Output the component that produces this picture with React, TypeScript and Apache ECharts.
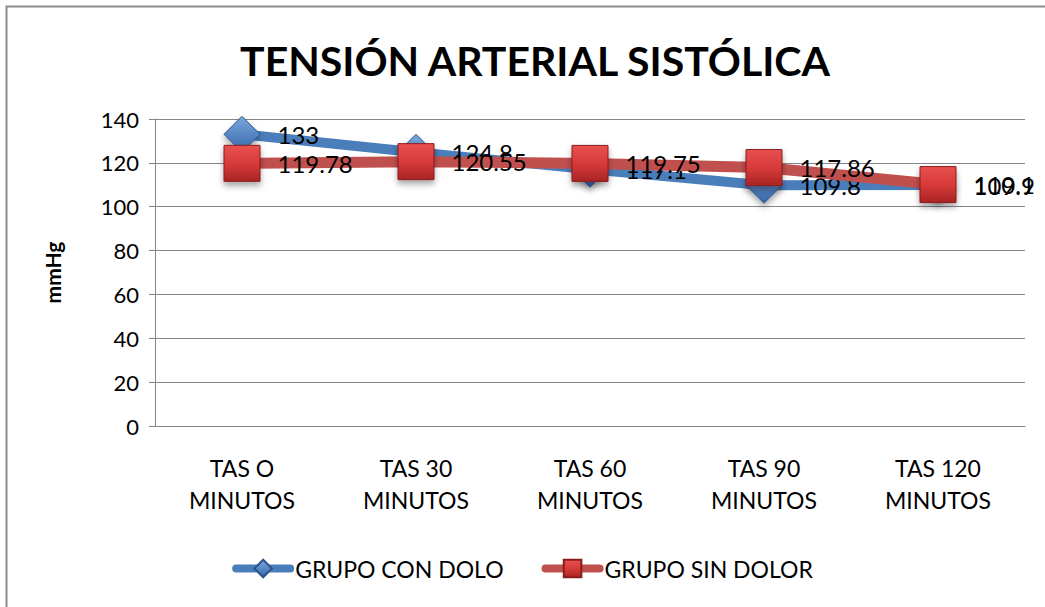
import React, { useEffect, useRef } from "react";
import * as echarts from "echarts";

const categories = ["TAS O\nMINUTOS", "TAS 30\nMINUTOS", "TAS 60\nMINUTOS", "TAS 90\nMINUTOS", "TAS 120\nMINUTOS"];
const conDolor = [133, 124.8, 117.1, 109.8, 109.9];
const sinDolor = [119.78, 120.55, 119.75, 117.86, 110.1];
const seriesNames = ["GRUPO CON DOLO", "GRUPO SIN DOLOR"];
const yTicks = { min: 0, max: 140, interval: 20 };

const FONT = "Lato, 'Open Sans', sans-serif";

export default function App() {
  const ref = useRef<HTMLDivElement>(null);
  useEffect(() => {
    if (!ref.current) return;
    const chart = echarts.init(ref.current, null, { renderer: "svg" });
    const blueGrad = new echarts.graphic.LinearGradient(0, 0, 0, 1, [
      { offset: 0, color: "#7aa8e0" },
      { offset: 1, color: "#3566a8" },
    ]);
    const redGrad = new echarts.graphic.LinearGradient(0, 0, 0, 1, [
      { offset: 0, color: "#e85050" },
      { offset: 0.5, color: "#d83a3a" },
      { offset: 1, color: "#a82424" },
    ]);
    chart.setOption({
      animation: false,
      backgroundColor: "#ffffff",
      textStyle: { fontFamily: FONT },
      title: {
        text: "TENSIÓN ARTERIAL SISTÓLICA",
        left: 530,
        textAlign: "center",
        top: 35,
        textStyle: { fontSize: 41, fontWeight: "bold", color: "#000", fontFamily: FONT },
      },
      graphic: [
        {
          type: "rect",
          shape: { x: 6.5, y: 6.5, width: 1200, height: 800 },
          style: { fill: "none", stroke: "#8c8c8c", lineWidth: 2 },
          silent: true,
        },
      ],
      grid: { left: 155, right: 20, top: 119, bottom: 181 },
      legend: {
        bottom: 22,
        left: "center",
        itemWidth: 54,
        itemHeight: 22,
        itemGap: 38,
        lineStyle: { width: 8, cap: "round" },
        textStyle: { fontSize: 23, color: "#000", fontFamily: FONT },
        data: seriesNames,
      },
      xAxis: {
        type: "category",
        data: categories,
        boundaryGap: true,
        axisLine: { lineStyle: { color: "#868686", width: 1 } },
        axisTick: { show: false },
        axisLabel: { fontSize: 23, color: "#000", lineHeight: 32, margin: 26, fontFamily: FONT },
      },
      yAxis: {
        type: "value",
        min: yTicks.min,
        max: yTicks.max,
        interval: yTicks.interval,
        name: "mmHg",
        nameLocation: "middle",
        nameRotate: 90,
        nameGap: 92,
        nameTextStyle: { fontSize: 21, fontWeight: "bold", color: "#000", fontFamily: FONT },
        axisLine: { show: true, lineStyle: { color: "#868686" } },
        axisTick: { show: true, length: 6, lineStyle: { color: "#868686" } },
        splitLine: { lineStyle: { color: "#868686", width: 1 } },
        axisLabel: { fontSize: 22, color: "#000", margin: 16, fontFamily: FONT },
      },
      series: [
        {
          name: seriesNames[0],
          type: "line",
          data: conDolor,
          symbol: "diamond",
          symbolSize: [36, 36],
          lineStyle: { color: "#4a7ebb", width: 10 },
          itemStyle: {
            color: blueGrad,
            borderColor: "#2c5487",
            borderWidth: 1,
            shadowBlur: 6,
            shadowOffsetY: 4,
            shadowColor: "rgba(0,0,0,0.35)",
          },
          label: {
            show: true,
            position: "right",
            distance: 17,
            fontSize: 24,
            color: "#000",
            fontFamily: FONT,
          },
          z: 2,
        },
        {
          name: seriesNames[1],
          type: "line",
          data: sinDolor,
          symbol: "rect",
          symbolSize: [36, 36],
          lineStyle: { color: "#c0504d", width: 11 },
          itemStyle: {
            color: redGrad,
            borderColor: "#8b1c1c",
            borderWidth: 1,
            shadowBlur: 6,
            shadowOffsetY: 4,
            shadowColor: "rgba(0,0,0,0.35)",
          },
          label: {
            show: true,
            position: "right",
            distance: 17,
            fontSize: 24,
            color: "#000",
            fontFamily: FONT,
          },
          z: 3,
        },
      ],
    });
    return () => chart.dispose();
  }, []);
  return (
    <div
      ref={ref}
      style={{ position: "fixed", left: 0, top: 0, width: 1045, height: 607 }}
    />
  );
}
